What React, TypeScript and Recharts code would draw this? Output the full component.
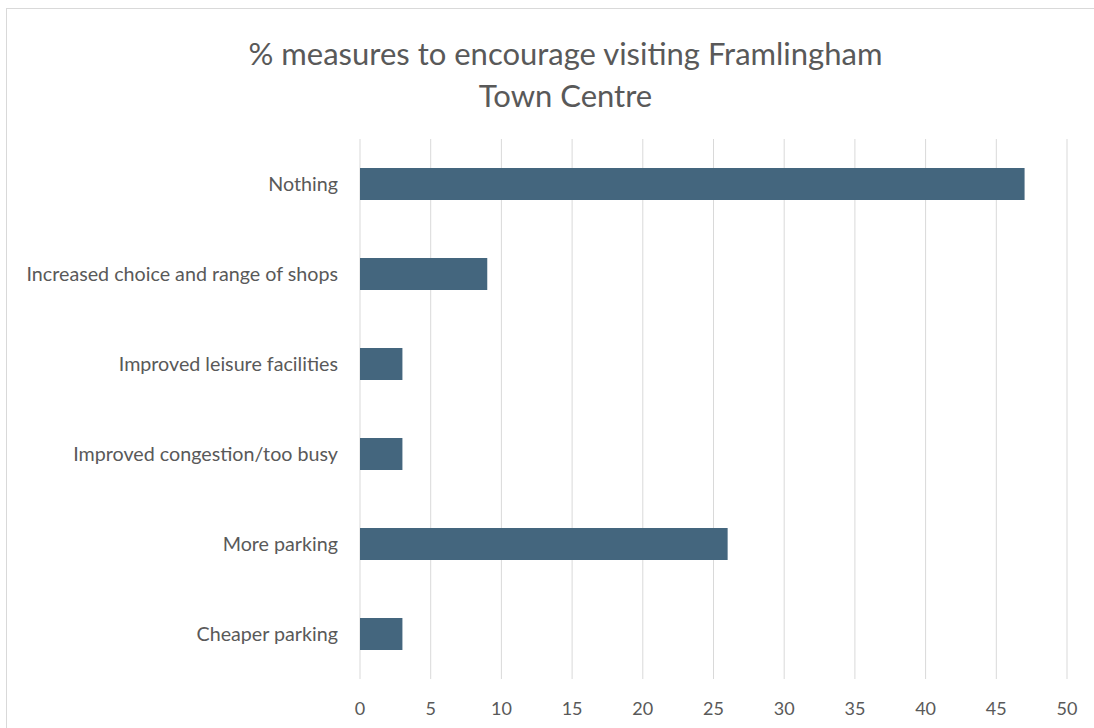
import React from 'react';
import { BarChart, Bar, XAxis, YAxis, CartesianGrid } from 'recharts';

const categories = [
  'Nothing',
  'Increased choice and range of shops',
  'Improved leisure facilities',
  'Improved congestion/too busy',
  'More parking',
  'Cheaper parking',
];
const values = [47, 9, 3, 3, 26, 3];
const xTicks = [0, 5, 10, 15, 20, 25, 30, 35, 40, 45, 50];
const titleLines = ['% measures to encourage visiting Framlingham', 'Town Centre'];

const data = categories.map((name, i) => ({ name, value: values[i] }));

const FONT = 'Lato, "Open Sans", sans-serif';
const TEXT = '#595959';

export default function App() {
  return (
    <div style={{ position: 'fixed', left: 0, top: 0, width: 1094, height: 728, overflow: 'hidden', background: '#fff', fontFamily: FONT }}>
      <div style={{ position: 'absolute', left: 6, top: 8, width: 1140, height: 760, border: '1px solid #d9d9d9', boxSizing: 'border-box' }} />
      <div style={{ position: 'absolute', left: 0, top: 0, width: 1131, textAlign: 'center', color: TEXT, fontSize: 31, lineHeight: '42px', paddingTop: 32 }}>
        {titleLines.map((t, i) => (
          <div key={i}>{t}</div>
        ))}
      </div>
      <div style={{ position: 'absolute', left: 0, top: 0 }}>
        <BarChart
          width={1094}
          height={728}
          layout="vertical"
          data={data}
          margin={{ top: 139, right: 27, bottom: 0, left: 0 }}
        >
          <CartesianGrid horizontal={false} stroke="#d9d9d9" strokeWidth={1} />
          <XAxis
            type="number"
            domain={[0, 50]}
            ticks={xTicks}
            interval={0}
            axisLine={false}
            tickLine={false}
            height={49}
            tickMargin={17}
            tick={{ fill: TEXT, fontSize: 18, fontFamily: FONT }}
          />
          <YAxis
            type="category"
            dataKey="name"
            width={360}
            axisLine={false}
            tickLine={false}
            tickMargin={16}
            interval={0}
            tick={{ fill: TEXT, fontSize: 19.7, fontFamily: FONT }}
          />
          <Bar dataKey="value" fill="#44667e" barSize={32} isAnimationActive={false} />
        </BarChart>
      </div>
    </div>
  );
}
